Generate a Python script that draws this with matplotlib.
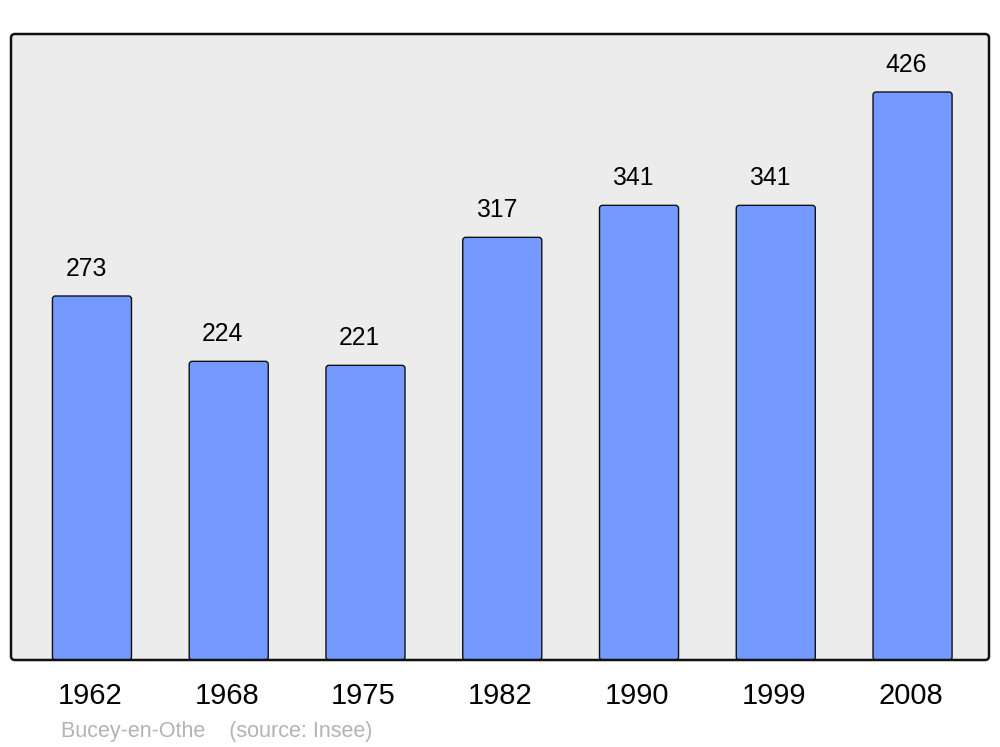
import matplotlib
matplotlib.use("Agg")
import matplotlib.pyplot as plt
from matplotlib.patches import FancyBboxPatch
from matplotlib.transforms import ScaledTranslation

years = ["1962", "1968", "1975", "1982", "1990", "1999", "2008"]
population = [273, 224, 221, 317, 341, 341, 426]
footer = "Bucey-en-Othe    (source: Insee)"

plt.rcParams['font.family'] = ['Liberation Sans', 'DejaVu Sans']

fig = plt.figure(figsize=(10, 7.47), dpi=100)
ax = fig.add_axes([0.011, 87 / 747, 0.978, 626 / 747])
ax.patch.set_visible(False)
for s in ax.spines.values():
    s.set_visible(False)

# rounded axes frame in figure coords: fill below, edge above
fill = FancyBboxPatch((0.011, 87 / 747), 0.978, 626 / 747,
                      boxstyle="round,pad=0,rounding_size=0.004",
                      mutation_aspect=1000 / 747,
                      transform=fig.transFigure, facecolor="#ececec",
                      edgecolor="none", zorder=-5)
fig.patches.append(fill)
edge = FancyBboxPatch((0.011, 87 / 747), 0.978, 626 / 747,
                      boxstyle="round,pad=0,rounding_size=0.004",
                      mutation_aspect=1000 / 747,
                      transform=fig.transFigure, facecolor="none",
                      edgecolor="#111111", linewidth=1.8, zorder=10)
fig.patches.append(edge)

x = list(range(len(years)))
bars = ax.bar(x, population, width=0.578, color="#7499ff",
              edgecolor="#111111", linewidth=1.0, zorder=2)

ax.set_xlim(-0.592, 6.559)
ax.set_ylim(0, 469.5)

# replace rectangles with slightly rounded boxes
px_x = 1.0 / 136.75
px_y = 469.5 / 626
for b in bars:
    b.set_visible(False)
    rb = FancyBboxPatch((b.get_x(), b.get_y()), b.get_width(), b.get_height(),
                        boxstyle=f"round,pad=0,rounding_size={3 * px_x}",
                        mutation_aspect=px_y / px_x,
                        facecolor="#7499ff", edgecolor="#111111",
                        linewidth=1.0, zorder=2, clip_on=False)
    ax.add_patch(rb)

for xi, v in zip(x, population):
    ax.annotate(str(v), (xi, v), xytext=(-4.3, 14.3), textcoords="offset points",
                ha="center", va="baseline", fontsize=17.8, color="#000000")

ax.set_xticks(x)
ax.set_xticklabels(years, fontsize=21)
ax.tick_params(axis="x", length=0, pad=16)
ax.set_yticks([])
shift = ScaledTranslation(-2 / 100, 0, fig.dpi_scale_trans)
for lbl in ax.get_xticklabels():
    lbl.set_transform(lbl.get_transform() + shift)

fig.text(0.061, 1 - 737 / 747, footer, fontsize=15.5, color="#b3b3b3",
         ha="left", va="baseline")

fig.savefig("out.png", dpi=100, facecolor="white")
